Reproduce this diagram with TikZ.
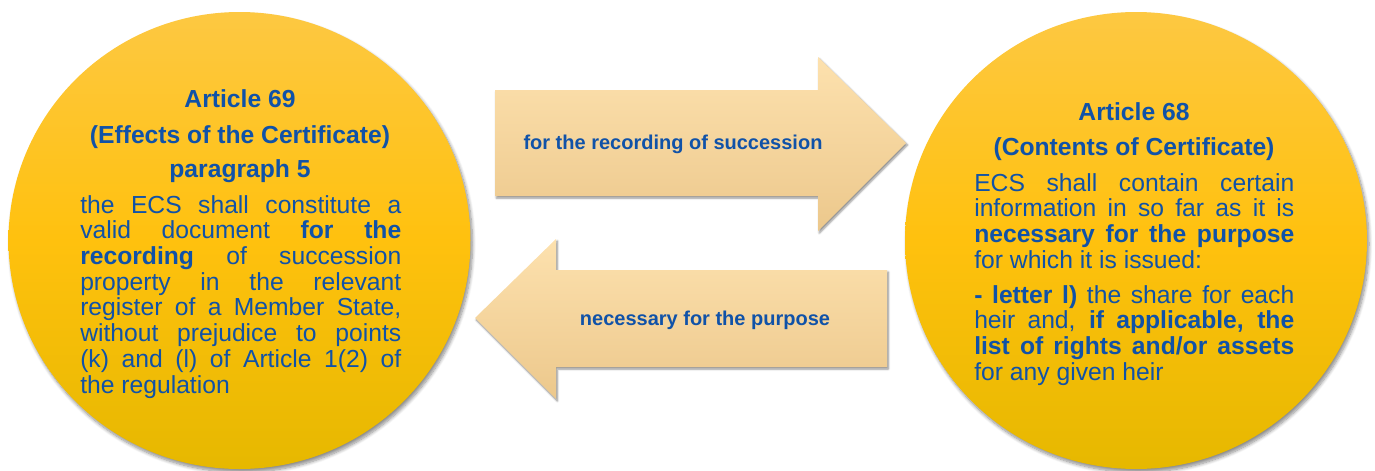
\documentclass[tikz,border=0pt]{standalone}
\usepackage{fontspec}
\setmainfont{Liberation Sans}
\usetikzlibrary{shadows.blur}

\definecolor{textblue}{RGB}{16,82,168}
\definecolor{goldtop}{RGB}{253,200,66}
\definecolor{goldmid}{RGB}{255,193,14}
\definecolor{goldbot}{RGB}{230,184,0}
\definecolor{peachtop}{RGB}{253,225,174}
\definecolor{peachbot}{RGB}{236,200,140}

% body paragraphs: justified, lines ended by hand
\newcommand{\bodyfont}{\fontsize{18.5pt}{19.3pt}\selectfont}
\newcommand{\titlefont}{\fontsize{18.5pt}{19.3pt}\selectfont\bfseries}
\newcommand{\arrowfont}{\fontsize{15pt}{18pt}\selectfont\bfseries}
\newcommand{\bodytext}[2]{\parbox[t]{#1}{\bodyfont\tolerance=10000\hyphenpenalty=10000
  \rightskip=0pt\parindent=0pt\spaceskip=0.28em plus 3em #2}}

\begin{document}
\begin{tikzpicture}[x=0.75pt,y=-0.75pt,
  disc/.style={draw=none, top color=goldtop, bottom color=goldbot, middle color=goldmid,
    blur shadow={shadow xshift=1.5pt, shadow yshift=-2.5pt, shadow blur steps=8,
      shadow blur radius=2.5pt, shadow opacity=45}},
  bigarrow/.style={draw=none, top color=peachtop, bottom color=peachbot,
    blur shadow={shadow xshift=1pt, shadow yshift=-1.5pt, shadow blur steps=6,
      shadow blur radius=1.5pt, shadow opacity=45}},
  title/.style={anchor=base, inner sep=0pt, text=textblue, font=\titlefont},
  body/.style={anchor=base west, inner sep=0pt, text=textblue},
  arrowlabel/.style={anchor=base, inner sep=0pt, text=textblue, font=\arrowfont}]

\useasboundingbox (0,0) rectangle (1375,471);

% the two discs
\path[disc] (239.5,240.5) ellipse [x radius=231, y radius=228.5];
\path[disc] (1136,240.5) ellipse [x radius=231, y radius=228.5];
\coordinate (leftdisc) at (239.5,240.5);
\coordinate (rightdisc) at (1136,240.5);

% block arrows between the discs
\path[bigarrow] (495,90) -- (818,90) -- (818,57) -- (906,143) -- (818,231)
  -- (818,196) -- (495,196) -- cycle;
\path[bigarrow] (887,270) -- (556,270) -- (556,239) -- (475,318) -- (556,399)
  -- (556,367) -- (887,367) -- cycle;

\node[arrowlabel] (fwd) at (673,149) {for the recording of succession};
\node[arrowlabel] (back) at (705,325) {necessary for the purpose};

% Article 69
\node[title] (t69a) at (240,107) {Article 69};
\node[title] (t69b) at (240,143) {(Effects of the Certificate)};
\node[title] (t69c) at (240,177) {paragraph 5};
\node[body] (b69) at (80,213) {\bodytext{240.75pt}{%
  the ECS shall constitute a\linebreak
  valid document \textbf{for the}\linebreak
  \textbf{recording} of succession\linebreak
  property in the relevant\linebreak
  register of a Member State,\linebreak
  without prejudice to points\linebreak
  (k) and (l) of Article 1(2) of\linebreak
  the regulation}};

% Article 68
\node[title] (t68a) at (1134,120) {Article 68};
\node[title] (t68b) at (1134,155) {(Contents of Certificate)};
\node[body] (b68a) at (974,191) {\bodytext{240pt}{%
  ECS shall contain certain\linebreak
  information in so far as it is\linebreak
  \textbf{necessary for the purpose}\linebreak
  for which it is issued:}};
\node[body] (b68b) at (974,303) {\bodytext{240pt}{%
  \textbf{- letter l)} the share for each\linebreak
  heir and, \textbf{if applicable, the}\linebreak
  \textbf{list of rights and/or assets}\linebreak
  for any given heir}};

\end{tikzpicture}
\end{document}
